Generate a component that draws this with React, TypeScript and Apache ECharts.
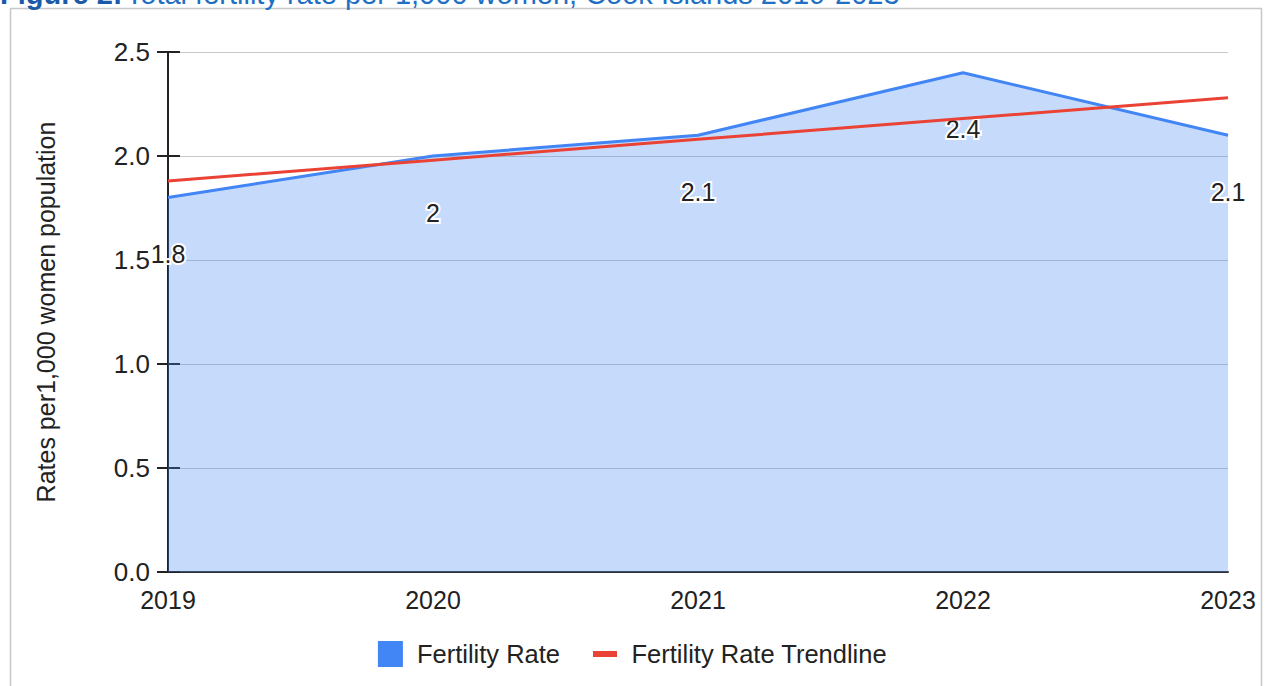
import React, { useEffect, useRef } from "react";
import * as echarts from "echarts";

const years = ["2019", "2020", "2021", "2022", "2023"];
const fertilityRate = [1.8, 2, 2.1, 2.4, 2.1];
const trendline = [1.88, 1.98, 2.08, 2.18, 2.28];
const yTicks = { min: 0, max: 2.5, interval: 0.5 };
const titleText = "Total fertility rate per 1,000 women, Cook Islands 2019-2023";
const yAxisTitle = "Rates per1,000 women population";
const seriesNames = ["Fertility Rate", "Fertility Rate Trendline"];

export default function App() {
  const ref = useRef<HTMLDivElement>(null);
  useEffect(() => {
    if (!ref.current) return;
    const chart = echarts.init(ref.current, null, { renderer: "svg" });
    const font = "Arial, 'Liberation Sans', sans-serif";
    chart.setOption({
      animation: false,
      backgroundColor: "#ffffff",
      textStyle: { fontFamily: font },
      grid: { left: 168, right: 37, top: 52, bottom: 114, containLabel: false },
      graphic: [
        {
          type: "rect",
          shape: { x: 10.5, y: 8.5, width: 1251, height: 690 },
          style: { fill: "none", stroke: "#c8c8c8", lineWidth: 1.5 },
          silent: true,
        },
        {
          type: "text",
          x: 0,
          y: -21,
          style: {
            rich: {
              b: { fontSize: 29, fontWeight: "bold", fill: "#1a5aa8", fontFamily: font },
              n: { fontSize: 29, fill: "#1f6fc5", fontFamily: font },
            },
            text: "{b|Figure 2:} {n|" + titleText + "}",
          },
          silent: true,
        },
      ],
      legend: {
        bottom: 14,
        left: "center",
        itemWidth: 25,
        itemHeight: 26,
        itemGap: 33,
        textStyle: { fontSize: 25.5, color: "#222", fontFamily: font, padding: [0, 0, 0, 9] },
        data: [
          { name: seriesNames[0], icon: "rect", itemStyle: { color: "#4285f4" } },
          {
            name: seriesNames[1],
            icon: "path://M0,0L0,0M0,10h24v6h-24zM24,26L24,26",
            itemStyle: { color: "#ea4335" },
          },
        ],
      },
      xAxis: {
        type: "category",
        data: years,
        boundaryGap: false,
        axisLine: { show: true, lineStyle: { color: "#333", width: 2 } },
        axisTick: { show: false },
        axisLabel: { fontSize: 25, color: "#222", margin: 15, fontFamily: font },
        splitLine: { show: false },
      },
      yAxis: [
        {
          type: "value",
          min: yTicks.min,
          max: yTicks.max,
          interval: yTicks.interval,
          name: yAxisTitle,
          nameLocation: "middle",
          nameGap: 110,
          nameRotate: 90,
          nameTextStyle: { fontSize: 25, color: "#222", fontFamily: font },
          axisLine: { show: true, lineStyle: { color: "#222", width: 2 } },
          axisTick: { show: true, length: 11, lineStyle: { color: "#222", width: 2 } },
          axisLabel: {
            fontSize: 26,
            color: "#222",
            margin: 18,
            fontFamily: font,
            formatter: (v: number) => v.toFixed(1),
          },
          splitLine: { show: true, lineStyle: { color: "#c9c9c9", width: 1 } },
        },
        {
          type: "value",
          min: yTicks.min,
          max: yTicks.max,
          interval: yTicks.interval,
          position: "left",
          axisLine: { show: false },
          axisTick: { show: true, inside: true, length: 12, lineStyle: { color: "#222", width: 2 } },
          axisLabel: { show: false },
          splitLine: { show: false },
        },
      ],
      series: [
        {
          name: seriesNames[0],
          type: "line",
          data: fertilityRate,
          symbol: "circle",
          symbolSize: 0.1,
          showSymbol: true,
          lineStyle: { color: "#4285f4", width: 3 },
          itemStyle: { color: "#4285f4" },
          areaStyle: { color: "#4285f4", opacity: 0.3 },
          z: 2,
          label: {
            show: true,
            position: "bottom",
            distance: 44,
            fontSize: 25,
            color: "#222",
            fontFamily: font,
            textBorderColor: "#ffffff",
            textBorderWidth: 4,
          },
        },
        {
          name: seriesNames[1],
          type: "line",
          data: trendline,
          symbol: "none",
          lineStyle: { color: "#ea4335", width: 3 },
          itemStyle: { color: "#ea4335" },
          z: 3,
        },
      ],
    });
    return () => chart.dispose();
  }, []);
  return (
    <div
      ref={ref}
      style={{ position: "fixed", left: 0, top: 0, width: 1265, height: 686 }}
    />
  );
}
